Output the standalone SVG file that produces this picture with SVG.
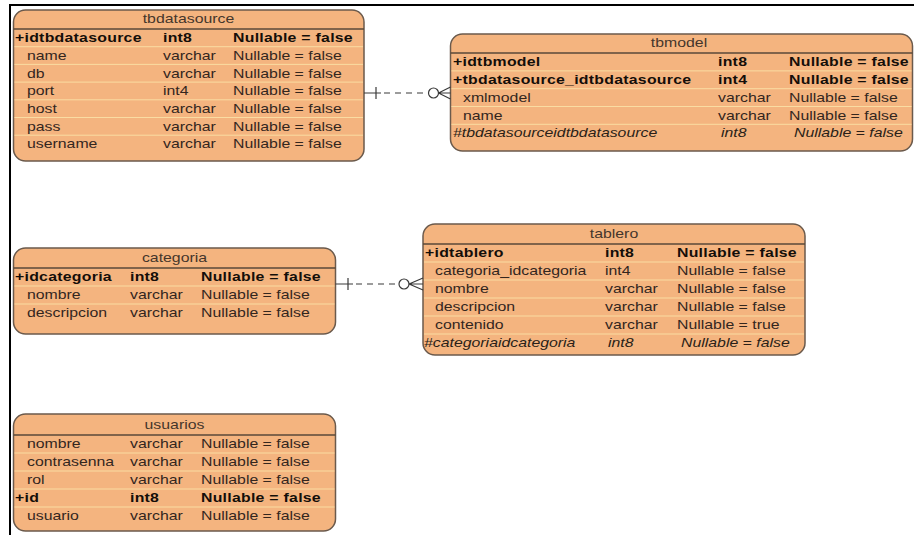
<svg xmlns="http://www.w3.org/2000/svg" width="914" height="535" viewBox="0 0 914 535">
  <style>
    .box{fill:#F4B47F;stroke:#6B5A4C;stroke-width:1.5}
    .hdr{stroke:#5A4838;stroke-width:1.5}
    .sep{stroke:#FADCA2;stroke-width:1}
    .frame{stroke:#000;stroke-width:2;fill:none}
    .conn{stroke:#3A3A3A;stroke-width:1.2;fill:none}
    .dash{stroke-dasharray:6 5}
    text{font-family:"Liberation Sans",Arial,sans-serif;font-size:12px;fill:#33261E}
    .title{text-anchor:middle;fill:#45362B}
    .pk{font-weight:bold;fill:#140E09;letter-spacing:0.2px}
    .fk{font-style:italic;fill:#2A1F18}
  </style>

  <!-- page border -->
  <path class="frame" d="M9 5H914M10 4V535"/>

  <!-- table: tbdatasource -->
  <g id="tbdatasource">
    <rect class="box" x="13.5" y="10" width="350.5" height="151" rx="12"/>
    <line class="hdr" x1="13.5" y1="29" x2="364" y2="29"/>
    <path class="sep" d="M14.5 46.7H363M14.5 64.4H363M14.5 82.1H363M14.5 99.8H363M14.5 117.5H363M14.5 135.2H363"/>
    <g transform="scale(1.32,1)">
      <text class="title" x="142.8" y="23.5">tbdatasource</text>
      <text class="pk" x="11.36" y="42.3">+idtbdatasource</text>
      <text class="pk" x="123.48" y="42.3">int8</text>
      <text class="pk" x="176.52" y="42.3">Nullable = false</text>
      <text x="20.45" y="60">name</text><text x="123.48" y="60">varchar</text><text x="176.52" y="60">Nullable = false</text>
      <text x="20.45" y="77.7">db</text><text x="123.48" y="77.7">varchar</text><text x="176.52" y="77.7">Nullable = false</text>
      <text x="20.45" y="95.4">port</text><text x="123.48" y="95.4">int4</text><text x="176.52" y="95.4">Nullable = false</text>
      <text x="20.45" y="113.1">host</text><text x="123.48" y="113.1">varchar</text><text x="176.52" y="113.1">Nullable = false</text>
      <text x="20.45" y="130.8">pass</text><text x="123.48" y="130.8">varchar</text><text x="176.52" y="130.8">Nullable = false</text>
      <text x="20.45" y="148.5">username</text><text x="123.48" y="148.5">varchar</text><text x="176.52" y="148.5">Nullable = false</text>
    </g>
  </g>

  <!-- table: tbmodel -->
  <g id="tbmodel">
    <rect class="box" x="450.5" y="34" width="462" height="117" rx="12"/>
    <line class="hdr" x1="450.5" y1="53" x2="912.5" y2="53"/>
    <path class="sep" d="M451.5 70.9H911.5M451.5 88.7H911.5M451.5 106.5H911.5M451.5 124.3H911.5"/>
    <g transform="scale(1.32,1)">
      <text class="title" x="514.39" y="47.5">tbmodel</text>
      <text class="pk" x="343.18" y="66.3">+idtbmodel</text>
      <text class="pk" x="543.94" y="66.3">int8</text>
      <text class="pk" x="597.73" y="66.3">Nullable = false</text>
      <text class="pk" x="343.18" y="84.1">+tbdatasource_idtbdatasource</text>
      <text class="pk" x="543.94" y="84.1">int4</text>
      <text class="pk" x="597.73" y="84.1">Nullable = false</text>
      <text x="350.76" y="101.9">xmlmodel</text><text x="543.94" y="101.9">varchar</text><text x="597.73" y="101.9">Nullable = false</text>
      <text x="350.76" y="119.7">name</text><text x="543.94" y="119.7">varchar</text><text x="597.73" y="119.7">Nullable = false</text>
      <text class="fk" x="343.18" y="137.5">#tbdatasourceidtbdatasource</text>
      <text class="fk" x="546.21" y="137.5">int8</text>
      <text class="fk" x="601.52" y="137.5">Nullable = false</text>
    </g>
  </g>

  <!-- table: categoria -->
  <g id="categoria">
    <rect class="box" x="13.5" y="248" width="322" height="86" rx="12"/>
    <line class="hdr" x1="13.5" y1="268" x2="335.5" y2="268"/>
    <path class="sep" d="M14.5 286H334.5M14.5 304H334.5"/>
    <g transform="scale(1.32,1)">
      <text class="title" x="132.2" y="262">categoria</text>
      <text class="pk" x="11.36" y="281.3">+idcategoria</text>
      <text class="pk" x="98.48" y="281.3">int8</text>
      <text class="pk" x="152.27" y="281.3">Nullable = false</text>
      <text x="20.45" y="299.3">nombre</text><text x="98.48" y="299.3">varchar</text><text x="152.27" y="299.3">Nullable = false</text>
      <text x="20.45" y="317.3">descripcion</text><text x="98.48" y="317.3">varchar</text><text x="152.27" y="317.3">Nullable = false</text>
    </g>
  </g>

  <!-- table: tablero -->
  <g id="tablero">
    <rect class="box" x="423" y="224" width="382" height="131" rx="12"/>
    <line class="hdr" x1="423" y1="244" x2="805" y2="244"/>
    <path class="sep" d="M424 262H804M424 280H804M424 298H804M424 316H804M424 334H804"/>
    <g transform="scale(1.32,1)">
      <text class="title" x="465.15" y="238">tablero</text>
      <text class="pk" x="321.97" y="257.3">+idtablero</text>
      <text class="pk" x="458.33" y="257.3">int8</text>
      <text class="pk" x="512.88" y="257.3">Nullable = false</text>
      <text x="329.55" y="275.3">categoria_idcategoria</text><text x="458.33" y="275.3">int4</text><text x="512.88" y="275.3">Nullable = false</text>
      <text x="329.55" y="293.3">nombre</text><text x="458.33" y="293.3">varchar</text><text x="512.88" y="293.3">Nullable = false</text>
      <text x="329.55" y="311.3">descripcion</text><text x="458.33" y="311.3">varchar</text><text x="512.88" y="311.3">Nullable = false</text>
      <text x="329.55" y="329.3">contenido</text><text x="458.33" y="329.3">varchar</text><text x="512.88" y="329.3">Nullable = true</text>
      <text class="fk" x="321.21" y="347.3">#categoriaidcategoria</text>
      <text class="fk" x="460.61" y="347.3">int8</text>
      <text class="fk" x="515.91" y="347.3">Nullable = false</text>
    </g>
  </g>

  <!-- table: usuarios -->
  <g id="usuarios">
    <rect class="box" x="13.5" y="414" width="322" height="117" rx="12"/>
    <line class="hdr" x1="13.5" y1="435" x2="335.5" y2="435"/>
    <path class="sep" d="M14.5 453H334.5M14.5 471H334.5M14.5 489H334.5M14.5 507H334.5"/>
    <g transform="scale(1.32,1)">
      <text class="title" x="132.2" y="429">usuarios</text>
      <text x="20.45" y="448.3">nombre</text><text x="98.48" y="448.3">varchar</text><text x="152.27" y="448.3">Nullable = false</text>
      <text x="20.45" y="466.3">contrasenna</text><text x="98.48" y="466.3">varchar</text><text x="152.27" y="466.3">Nullable = false</text>
      <text x="20.45" y="484.3">rol</text><text x="98.48" y="484.3">varchar</text><text x="152.27" y="484.3">Nullable = false</text>
      <text class="pk" x="11.36" y="502.3">+id</text>
      <text class="pk" x="98.48" y="502.3">int8</text>
      <text class="pk" x="152.27" y="502.3">Nullable = false</text>
      <text x="20.45" y="520.3">usuario</text><text x="98.48" y="520.3">varchar</text><text x="152.27" y="520.3">Nullable = false</text>
    </g>
  </g>

  <!-- relationships: one (bar) to zero-or-many (circle + crow's foot) -->
  <g id="connectors">
    <g id="rel-tbdatasource-tbmodel">
      <path class="conn" d="M364 93H381M376 87V99"/>
      <path class="conn dash" d="M384 93H428"/>
      <circle class="conn" cx="433.5" cy="93" r="5"/>
      <path class="conn" d="M438.5 93L450.5 87M438.5 93H450.5M438.5 93L450.5 99"/>
    </g>
    <g id="rel-categoria-tablero">
      <path class="conn" d="M335.5 284H353M348 278V290"/>
      <path class="conn dash" d="M356 284H399"/>
      <circle class="conn" cx="404" cy="284" r="5"/>
      <path class="conn" d="M409 284L423 278M409 284H423M409 284L423 290"/>
    </g>
  </g>
</svg>
